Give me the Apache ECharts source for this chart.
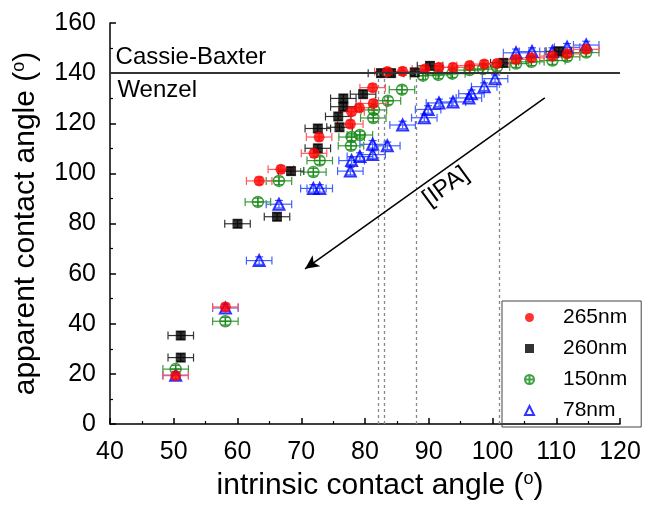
<!DOCTYPE html>
<html>
<head>
<meta charset="utf-8">
<script src="https://cdn.jsdelivr.net/npm/echarts@6/dist/echarts.min.js"></script>
<style>
  html, body { margin: 0; padding: 0; background: #fff; }
  #chart { width: 648px; height: 506px; }
</style>
</head>
<body>
<div id="chart"></div>
<script>
// 数据
var x265 = [50.3, 58.1, 63.4, 66.8, 72.0, 72.8, 77.7, 77.9, 79.1, 81.3, 81.2, 83.5, 85.9, 89.4, 91.6, 93.8, 96.4, 98.7, 100.7, 103.7, 106.1, 109.4, 111.7, 114.7];
var y265 = [19.3, 46.7, 97.0, 101.6, 108.0, 114.5, 119.7, 124.6, 126.2, 127.9, 134.2, 140.6, 140.7, 141.6, 142.3, 142.3, 143.0, 143.6, 143.8, 145.5, 146.1, 146.8, 147.7, 149.5];

var x260 = [51.1, 51.1, 60.0, 66.2, 68.4, 72.6, 72.6, 75.8, 76.0, 76.6, 76.6, 79.7, 82.5, 84.1, 87.8, 90.2, 101.7, 110.4];
var y260 = [26.5, 35.3, 79.9, 82.7, 100.9, 110.0, 117.9, 122.7, 118.4, 126.6, 129.9, 131.6, 140.0, 140.0, 140.3, 142.9, 144.1, 148.7];

var x150 = [50.3, 58.1, 63.2, 66.5, 71.9, 72.9, 77.8, 77.9, 79.2, 81.3, 81.4, 83.6, 85.8, 89.1, 91.5, 93.7, 96.4, 98.5, 100.7, 103.7, 106.1, 109.4, 111.7, 114.7];
var y150 = [21.9, 41.0, 88.6, 97.0, 100.5, 105.1, 111.0, 114.5, 115.3, 122.1, 125.3, 129.0, 133.4, 139.0, 139.3, 139.8, 141.2, 141.6, 142.4, 143.8, 144.5, 145.0, 146.5, 148.2];

var x78 = [50.3, 58.1, 63.4, 66.5, 71.9, 72.9, 77.7, 77.9, 79.2, 81.2, 81.2, 83.5, 85.9, 89.3, 89.9, 91.6, 93.8, 96.3, 96.7, 98.7, 100.4, 103.7, 106.2, 109.4, 111.7, 114.7];
var y78 = [19.5, 46.3, 65.2, 87.7, 94.0, 94.0, 100.9, 105.1, 106.7, 107.5, 111.6, 111.0, 119.3, 122.2, 125.5, 128.1, 128.5, 130.1, 131.8, 134.6, 137.8, 148.1, 148.6, 148.6, 150.3, 151.2];

// 误差
var xErr = 2.0;
var yErr = 1.5;

// 注释
var transitionAngle = 140;
var dashedX = [82, 83, 88, 101];
var arrowFrom = [108.2, 130.1];
var arrowTo = [70.6, 61.9];

var FONT = 'Liberation Sans, Arial, sans-serif';

function pairs(xs, ys) {
    return xs.map(function (x, i) { return [x, ys[i]]; });
}
function errData(xs, ys) {
    return xs.map(function (x, i) { return [x, ys[i], xErr, yErr]; });
}
function errRender(color) {
    return function (params, api) {
        var x = api.value(0), y = api.value(1), ex = api.value(2), ey = api.value(3);
        var l = api.coord([x - ex, y]), r = api.coord([x + ex, y]);
        var t = api.coord([x, y + ey]), b = api.coord([x, y - ey]);
        var c = 4;
        var st = { stroke: color, lineWidth: 1.2 };
        return {
            type: 'group',
            children: [
                { type: 'line', shape: { x1: l[0], y1: l[1], x2: r[0], y2: r[1] }, style: st },
                { type: 'line', shape: { x1: l[0], y1: l[1] - c, x2: l[0], y2: l[1] + c }, style: st },
                { type: 'line', shape: { x1: r[0], y1: r[1] - c, x2: r[0], y2: r[1] + c }, style: st },
                { type: 'line', shape: { x1: t[0], y1: t[1], x2: b[0], y2: b[1] }, style: st },
                { type: 'line', shape: { x1: t[0] - c, y1: t[1], x2: t[0] + c, y2: t[1] }, style: st },
                { type: 'line', shape: { x1: b[0] - c, y1: b[1], x2: b[0] + c, y2: b[1] }, style: st }
            ]
        };
    };
}
function errSeries(name, xs, ys, color) {
    return {
        name: name, type: 'custom', renderItem: errRender(color),
        data: errData(xs, ys), encode: { x: 0, y: 1 }, silent: true, z: 2
    };
}

var circlePlus = 'path://M10,0A10,10,0,1,1,10,20A10,10,0,1,1,10,0ZM0,10L20,10M10,0L10,20';

var chart = echarts.init(document.getElementById('chart'));

var option = {
    animation: false,
    textStyle: { fontFamily: FONT, color: '#000' },
    grid: { left: 110, right: 28, top: 23, bottom: 74 },
    legend: {
        data: ['265nm', '260nm', '150nm', '78nm'],
        orient: 'vertical',
        left: 502, top: 301,
        padding: [6, 14, 6, 22],
        itemGap: 10,
        itemWidth: 9, itemHeight: 9,
        borderColor: '#444', borderWidth: 1,
        textStyle: { fontSize: 21, fontFamily: FONT, color: '#000', padding: [0, 0, 0, 24] }
    },
    xAxis: {
        type: 'value', min: 40, max: 120, interval: 10,
        name: 'intrinsic contact angle ({s|o})',
        nameLocation: 'middle', nameGap: 46,
        nameTextStyle: { fontSize: 30, fontFamily: FONT, color: '#000', padding: [0, 0, 0, 30],
            rich: { s: { fontSize: 18, fontFamily: FONT, padding: [0, 0, 14, 0] } } },
        axisLine: { lineStyle: { color: '#000', width: 1.5 } },
        axisTick: { inside: true, length: 6, lineStyle: { color: '#000', width: 1.5 } },
        minorTick: { show: true, splitNumber: 2, length: 3, lineStyle: { color: '#000', width: 1.2 } },
        axisLabel: { fontSize: 25, color: '#000', fontFamily: FONT, margin: 16 },
        splitLine: { show: false }
    },
    yAxis: {
        type: 'value', min: 0, max: 160, interval: 20,
        name: 'apparent contact angle ({s|o})',
        nameLocation: 'middle', nameGap: 68,
        nameTextStyle: { fontSize: 30, fontFamily: FONT, color: '#000',
            rich: { s: { fontSize: 18, fontFamily: FONT, padding: [0, 0, 14, 0] } } },
        axisLine: { show: true, lineStyle: { color: '#000', width: 1.5 } },
        axisTick: { show: true, inside: true, length: 6, lineStyle: { color: '#000', width: 1.5 } },
        minorTick: { show: true, splitNumber: 2, length: 3, lineStyle: { color: '#000', width: 1.2 } },
        axisLabel: { fontSize: 25, color: '#000', fontFamily: FONT, margin: 14 },
        splitLine: { show: false }
    },
    series: [
        {
            name: 'annot', type: 'line', data: [], silent: true, z: 1,
            markLine: {
                silent: true, symbol: 'none', animation: false,
                label: { show: false },
                data: [
                    [{ coord: [40, transitionAngle], lineStyle: { color: '#333', width: 2, type: 'solid' } },
                     { coord: [120, transitionAngle] }]
                ].concat(dashedX.map(function (v) {
                    return [{ coord: [v, 0], lineStyle: { color: '#888', width: 1.3, type: [3, 3] } },
                            { coord: [v, transitionAngle] }];
                })).concat([
                    [{ coord: arrowFrom, symbol: 'none', lineStyle: { color: '#000', width: 1.5, type: 'solid' } },
                     { coord: arrowTo, symbol: 'arrow', symbolSize: [10, 14] }]
                ])
            },
            markPoint: {
                silent: true, symbol: 'circle', symbolSize: 1,
                itemStyle: { color: 'rgba(0,0,0,0)' },
                label: { show: true, position: 'inside', color: '#000', fontSize: 24, fontFamily: FONT },
                data: [
                    { coord: [52.7, 146.3], value: 'Cassie-Baxter', label: { formatter: 'Cassie-Baxter' } },
                    { coord: [47.4, 133.0], value: 'Wenzel', label: { formatter: 'Wenzel' } },
                    { coord: [92.7, 94.7], value: '[IPA]', label: { formatter: '[IPA]', rotate: 36 } }
                ]
            }
        },
        errSeries('e78', x78, y78, '#4060ff'),
        errSeries('e150', x150, y150, '#3a9a3a'),
        errSeries('e260', x260, y260, '#333'),
        errSeries('e265', x265, y265, '#ff5a5a'),
        {
            name: '78nm', type: 'scatter', data: pairs(x78, y78), z: 3,
            symbol: 'triangle', symbolSize: 11,
            itemStyle: { color: 'rgba(255,255,255,0)', borderColor: '#0000ff', borderWidth: 2 }
        },
        {
            name: '150nm', type: 'scatter', data: pairs(x150, y150), z: 3,
            symbol: circlePlus, symbolSize: 11,
            itemStyle: { color: 'rgba(255,255,255,0)', borderColor: '#118811', borderWidth: 1.5 }
        },
        {
            name: '260nm', type: 'scatter', data: pairs(x260, y260), z: 3,
            symbol: 'rect', symbolSize: 10,
            itemStyle: { color: '#000' }
        },
        {
            name: '265nm', type: 'scatter', data: pairs(x265, y265), z: 3,
            symbol: 'circle', symbolSize: 11,
            itemStyle: { color: '#ff0000' }
        }
    ]
};

chart.setOption(option);
</script>
</body>
</html>
